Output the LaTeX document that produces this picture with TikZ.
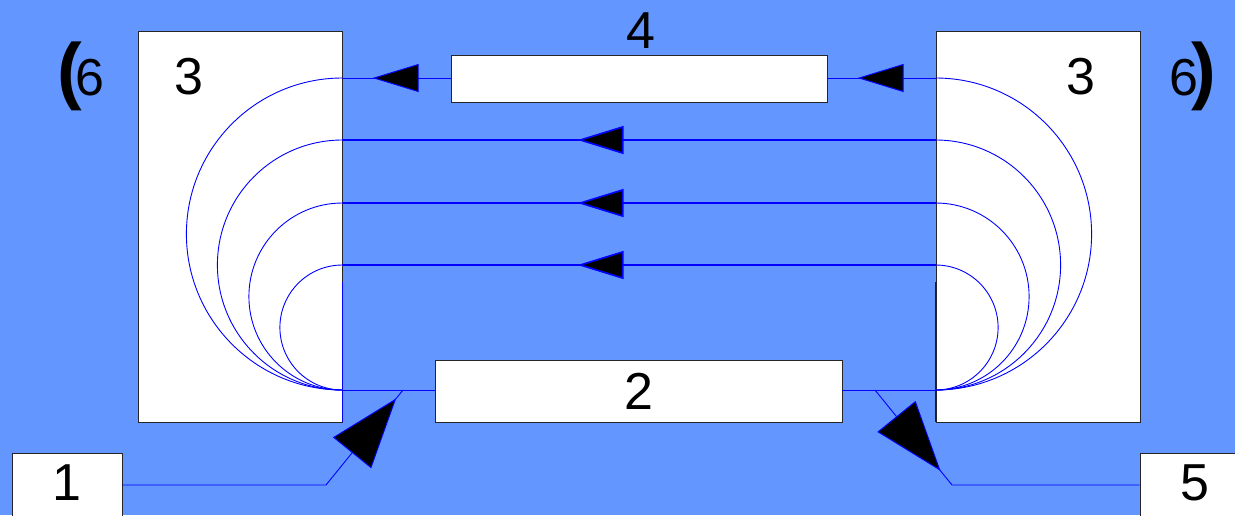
\documentclass[tikz,border=0pt]{standalone}
\usepackage{fontspec}
\setmainfont{Liberation Sans}
\usetikzlibrary{arrows.meta,decorations.markings,positioning,calc}
\definecolor{bgblue}{RGB}{100,150,255}
\newcommand{\bigparen}[1]{{\fontsize{74}{74}\selectfont\bfseries #1}}
\begin{document}
\begin{tikzpicture}[x=1pt,y=-1pt]
    \tikzset{box/.style={draw=black!85,fill=white,line width=0.8pt,inner sep=0pt},
      wire/.style={blue,line width=0.9pt},
      bus/.style={blue,line width=1.6pt},
      num/.style={font=\fontsize{52}{52}\selectfont,inner sep=0pt},
      midtip/.style={decoration={markings,mark=at position #1 with
        {\arrow{Triangle[length=46pt,width=28pt,fill=black]}}},postaction={decorate}},
      bigtip/.style={decoration={markings,mark=at position #1 with
        {\arrow{Triangle[length=70pt,width=49pt,fill=black]}}},postaction={decorate}}}
    \useasboundingbox (0,0) rectangle (1235,515);
    \fill[bgblue] (0,0) rectangle (1235,515);
% boxes
    \node [box,minimum width=204pt,minimum height=391pt] (L3) at (240,226.5) {};
    \node [box,minimum width=204pt,minimum height=391pt] (R3) at (1038,226.5) {};
    \node [box,minimum width=376pt,minimum height=47pt]  (B4) at (639,78.5) {};
    \node [box,minimum width=407pt,minimum height=62pt]  (B2) at (638.5,391) {};
    \node [box,minimum width=110pt,minimum height=80pt]  (B1) at (67,493) {};
    \node [box,minimum width=110pt,minimum height=80pt]  (B5) at (1195,493) {};
% labels
    \node [num] (t3l) at (188.5,77) {3};
    \node [num] (t3r) at (1081,77) {3};
    \node [num,anchor=base west] (t6l) at (57,95) {\bigparen{(}\kern-6pt 6};
    \node [num,anchor=base west] (t6r) at (1169,95) {6\kern-7pt\bigparen{)}};
    \node [num] (t4) at (641,31) {4};
    \node [num] (t2) at (B2) {2};
    \node [num] (t1) at (67,483) {1};
    \node [num] (t5) at (1195,483) {5};
% loops
    \foreach \y in {78,140,203,265}
     { \draw[wire] (L3.east |- 0,\y) arc[start angle=270,end angle=90,radius={(390-\y)/2}];
       \draw[wire] (R3.west |- 0,\y) arc[start angle=-90,end angle=90,radius={(390-\y)/2}];
     }
    \foreach \y in {140,203,265}
      {\draw[bus,midtip=358pt] (R3.west |- 0,\y) -- (L3.east |- 0,\y);}
    \draw[wire,midtip=78pt] (R3.west |- 0,78) -- (B4.east |- 0,78);
    \draw[wire,midtip=78pt] (B4.west |- 0,78) -- (L3.east |- 0,78);
    \draw[bus] (L3.east |- 0,282) -- (L3.south east);
    \draw[bus] (R3.west |- 0,282) -- (R3.south west);
% in and out
    \coordinate (jl) at (403,390);
    \coordinate (jr) at (875,390);
    \coordinate (kl) at (326,485);
    \coordinate (kr) at (952,485);
    \draw[wire] (L3.east |- 0,390) -- (B2.west |- 0,390) (B2.east |- 0,390) -- (R3.west |- 0,390);
    \draw[wire,bigtip=315pt] (B1.east |- kl) -- (kl) -- (jl);
    \draw[wire,bigtip=104pt] (jr) -- (kr) -- (B5.west |- kr);
\end{tikzpicture}
\end{document}
